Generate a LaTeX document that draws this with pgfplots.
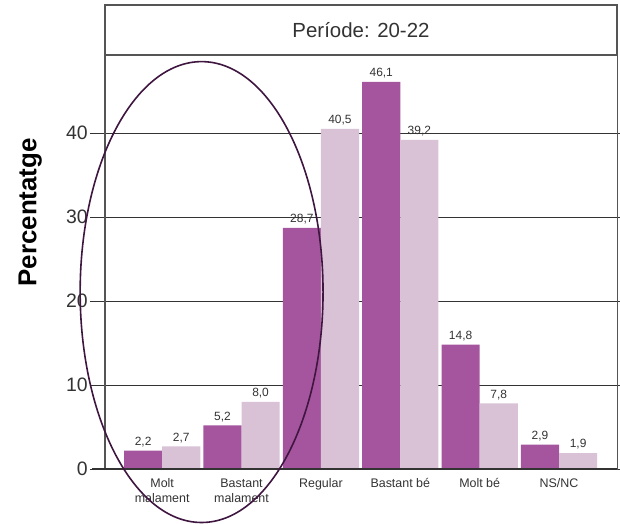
\documentclass[border=0pt]{standalone}
\usepackage{fontspec}
\setmainfont{Liberation Sans}
\usepackage{pgfplots}
\pgfplotsset{compat=1.18}
\definecolor{darkbar}{HTML}{A5559E}
\definecolor{lightbar}{HTML}{D9C1D6}
\definecolor{ellcol}{HTML}{3F1640}
\definecolor{axgray}{HTML}{555555}
\definecolor{gridc}{HTML}{333333}
\definecolor{txt}{HTML}{333333}
\begin{document}
\begin{tikzpicture}
\begin{axis}[
  scale only axis,
  width=512bp, height=414bp,
  xmin=-0.72, xmax=5.73,
  ymin=0, ymax=49.3,
  clip=false,
  axis line style={draw=axgray, line width=1bp},
  ytick={0,10,20,30,40},
  ymajorgrids,
  grid style={draw=gridc, line width=1bp},
  tick align=outside,
  major tick length=15bp,
  ytick style={draw=gridc, line width=1bp},
  yticklabel style={font=\fontsize{19.5}{22}\selectfont, text=txt, inner sep=2bp},
  xtick={0,1,2,3,4,5},
  xticklabels={Molt\\malament, Bastant\\malament, Regular, Bastant bé, Molt bé, NS/NC},
  xticklabel style={align=center, font=\fontsize{12.5}{15.5}\selectfont, text=txt, anchor=north, yshift=9bp},
  xtick style={draw=none},
  /pgf/number format/assume math mode=true,
  ylabel={\bfseries Percentatge},
  ylabel style={at={(axis description cs:-0.146,0.62)}, anchor=center, rotate=0, font=\fontsize{26}{30}\selectfont, text=black},
  ybar, bar width=0.48,
  nodes near coords,
  nodes near coords style={font=\fontsize{12}{14}\selectfont, text=txt, /pgf/number format/.cd, use comma, fixed, fixed zerofill, precision=1, assume math mode=true},
]
\addplot[fill=darkbar, draw=none, bar shift=-0.24] coordinates {(0,2.2) (1,5.2) (2,28.7) (3,46.1) (4,14.8) (5,2.9)};
\addplot[fill=lightbar, draw=none, bar shift=0.24] coordinates {(0,2.7) (1,8.0) (2,40.5) (3,39.2) (4,7.8) (5,1.9)};
\draw[axgray, line width=2bp] (axis cs:-0.72,0) -- (axis cs:-0.72,49.3);
\draw[gridc, line width=2bp] (axis cs:-0.88,0) -- (axis cs:5.73,0);
\draw[ellcol, line width=1.6bp] (axis cs:0.497,21.07) ellipse [x radius=1.53, y radius=27.44];
\end{axis}
\draw[axgray, line width=1.2bp] (current axis.north west) rectangle ([yshift=50bp]current axis.north east);
\node[font=\fontsize{20.5}{24}\selectfont, text=txt] at ([yshift=25bp]current axis.north) {Període: 20-22};
\pgfresetboundingbox
\path[use as bounding box] ([shift={(-105bp,-55bp)}]current axis.south west) rectangle ++(620bp,524bp);
\end{tikzpicture}
\end{document}
